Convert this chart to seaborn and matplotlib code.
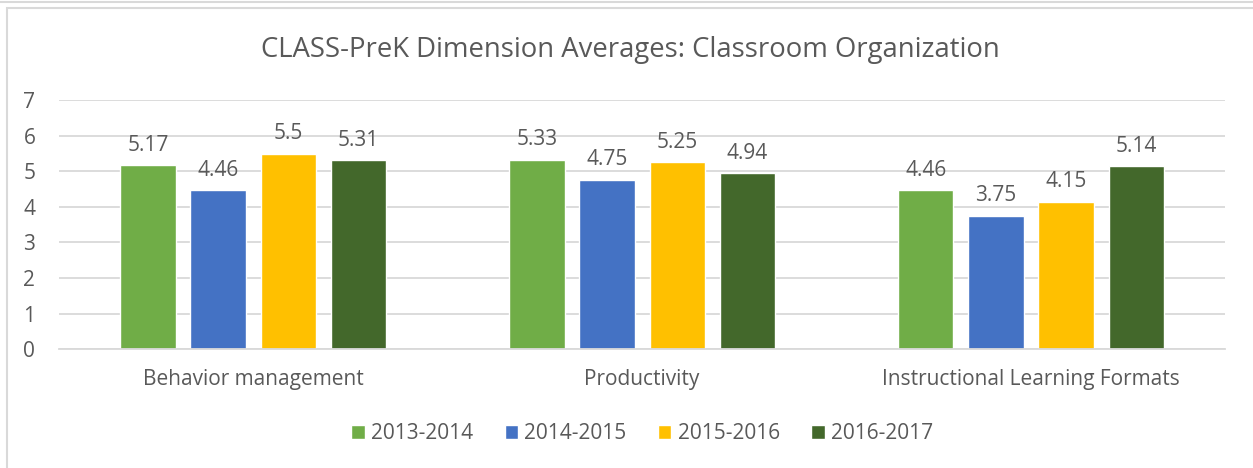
import pandas as pd
import matplotlib.pyplot as plt
import seaborn as sns
from matplotlib.patches import Rectangle

categories = ["Behavior management", "Productivity", "Instructional Learning Formats"]
years = ["2013-2014", "2014-2015", "2015-2016", "2016-2017"]
scores = {
    "2013-2014": [5.17, 5.33, 4.46],
    "2014-2015": [4.46, 4.75, 3.75],
    "2015-2016": [5.5, 5.25, 4.15],
    "2016-2017": [5.31, 4.94, 5.14],
}
colors = ["#70AD47", "#4472C4", "#FFC000", "#43682B"]

rows = []
for y in years:
    for c, v in zip(categories, scores[y]):
        rows.append({"Dimension": c, "Year": y, "Score": v})
df = pd.DataFrame(rows)

sns.set_style("white")
plt.rcParams["font.family"] = ["Open Sans", "DejaVu Sans"]
text_col = "#595959"

fig = plt.figure(figsize=(12.53, 4.68), dpi=100)
ax = fig.add_axes([0.047, 0.254, 0.931, 0.532])

sns.barplot(data=df, x="Dimension", y="Score", hue="Year", hue_order=years,
            palette=colors, width=0.722, gap=0.21, saturation=1, ax=ax)

for cont in ax.containers:
    ax.bar_label(cont, labels=[f"{v:g}" for v in cont.datavalues],
                 padding=7, fontsize=15, color=text_col)

ax.set_ylim(0, 7)
ax.set_xlim(-0.5, 2.5)
ax.set_yticks(range(0, 8))
ax.yaxis.grid(True, color="#D9D9D9", linewidth=1.3)
ax.set_axisbelow(True)
for s in ["top", "right", "left"]:
    ax.spines[s].set_visible(False)
ax.spines["bottom"].set_color("#D9D9D9")
ax.spines["bottom"].set_linewidth(1.3)
ax.tick_params(axis="both", length=0, labelsize=15, colors=text_col)
ax.tick_params(axis="x", pad=14)
ax.tick_params(axis="y", pad=17)
ax.set_xlabel("")
ax.set_ylabel("")

fig.text(0.503, 0.893, "CLASS-PreK Dimension Averages: Classroom Organization",
         ha="center", va="center", fontsize=19.8, color=text_col)

sns.move_legend(ax, "center", bbox_to_anchor=(0.5, -0.34), ncol=4,
                frameon=False, title=None, fontsize=15, handlelength=0.65,
                handleheight=0.65, handletextpad=0.3, columnspacing=1.5)
for t in ax.get_legend().get_texts():
    t.set_color(text_col)

# chart frame
fig.add_artist(Rectangle((7 / 1253, -0.05), 1.1, 1 - 8 / 468 + 0.05,
                         transform=fig.transFigure, fill=False,
                         edgecolor="#D9D9D9", linewidth=1.5))
fig.add_artist(plt.Line2D([0, 1], [1 - 1.5 / 468] * 2, transform=fig.transFigure,
                          color="#D9D9D9", linewidth=1.5))

plt.savefig("out.png", dpi=100)
plt.close()
